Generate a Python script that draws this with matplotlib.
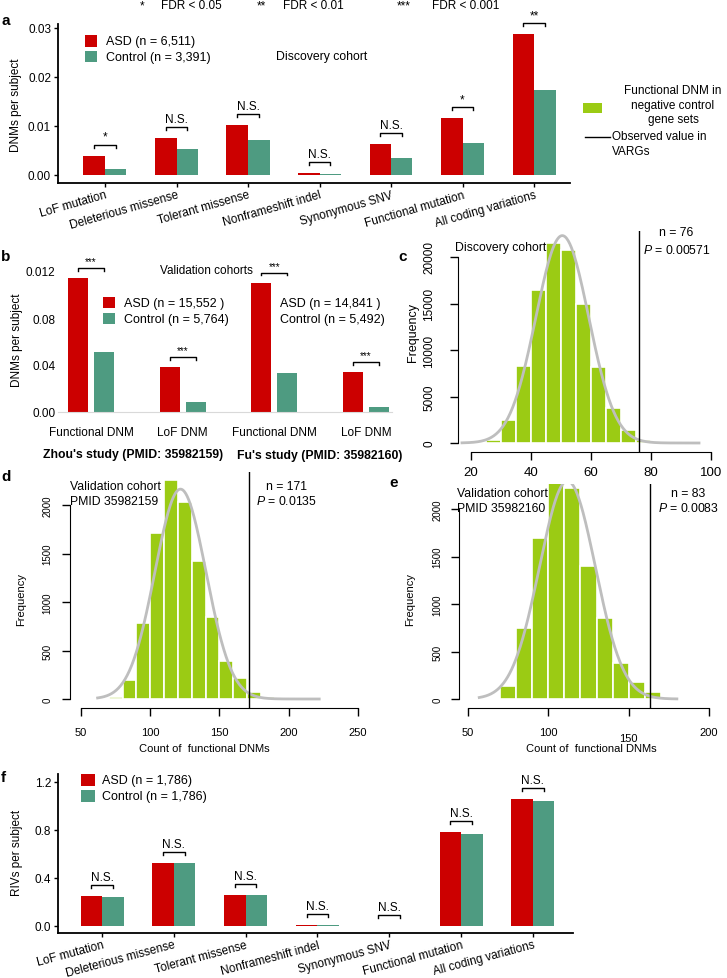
import numpy as np
import matplotlib
matplotlib.use('Agg')
import matplotlib.pyplot as plt
from matplotlib.patches import Rectangle
from matplotlib.lines import Line2D

plt.rcParams['font.family'] = ['Liberation Sans', 'DejaVu Sans']
plt.rcParams['mathtext.fontset'] = 'custom'
plt.rcParams['mathtext.it'] = 'Liberation Sans:italic'
plt.rcParams['mathtext.rm'] = 'Liberation Sans'

W, H = 727, 979
RED = '#CC0000'
TEAL = '#4E9B81'
GREEN = '#9BCB14'
GREY = '#BEBEBE'
FS = 8.5

# ---- data ----
mut_types = ['LoF mutation', 'Deleterious missense', 'Tolerant missense',
             'Nonframeshift indel', 'Synonymous SNV', 'Functional mutation',
             'All coding variations']
a_asd = [0.0039, 0.0076, 0.0102, 0.0004, 0.0062, 0.0116, 0.0287]
a_ctrl = [0.0011, 0.0052, 0.0070, 0.0002, 0.0035, 0.0064, 0.0173]
a_sig = ['*', 'N.S.', 'N.S.', 'N.S.', 'N.S.', '*', '**']

b_cats = ['Functional DNM', 'LoF DNM', 'Functional DNM', 'LoF DNM']
b_asd = [0.114, 0.038, 0.110, 0.034]
b_ctrl = [0.051, 0.0085, 0.033, 0.0043]
b_sig = ['***', '***', '***', '***']
b_studies = ["Zhou's study (PMID: 35982159)", "Fu's study (PMID: 35982160)"]

c_edges = [25, 30, 35, 40, 45, 50, 55, 60, 65, 70, 75, 80]
c_counts = [360, 2450, 8300, 16400, 21500, 20800, 15000, 8200, 3740, 1400, 360]
c_obs = 76

d_edges = [70, 80, 90, 100, 110, 120, 130, 140, 150, 160, 170, 180, 190, 200]
d_counts = [25, 195, 780, 1708, 2260, 2030, 1421, 849, 390, 217, 76, 25, 8]
d_obs = 171

e_edges = [70, 80, 90, 100, 110, 120, 130, 140, 150, 160, 170, 180]
e_counts = [134, 750, 1692, 2316, 2218, 1403, 850, 379, 176, 70, 12]
e_obs = 163

f_asd = [0.252, 0.525, 0.258, 0.008, 0.002, 0.780, 1.058]
f_ctrl = [0.239, 0.522, 0.258, 0.008, 0.002, 0.767, 1.040]
f_sig = ['N.S.'] * 7

fig = plt.figure(figsize=(W / 100, H / 100), dpi=100)


def add_ax(x0, y0, x1, y1):
    return fig.add_axes([x0 / W, 1 - y1 / H, (x1 - x0) / W, (y1 - y0) / H])


def xlim_px(x0, x1, ref_px, ref_val, ppu):
    return (ref_val + (x0 - ref_px) / ppu, ref_val + (x1 - ref_px) / ppu)


def ylim_px(y0, y1, ref_px, ref_val, ppu):
    # y0 top, y1 bottom (pixels from top)
    return (ref_val + (ref_px - y1) / ppu, ref_val + (ref_px - y0) / ppu)


def ftext(x, y, s, **kw):
    kw.setdefault('fontsize', FS)
    kw.setdefault('va', 'center')
    fig.text(x / W, 1 - y / H, s, **kw)


def frect(x0, y0, x1, y1, color):
    fig.add_artist(Rectangle((x0 / W, 1 - y1 / H), (x1 - x0) / W, (y1 - y0) / H,
                             transform=fig.transFigure, color=color, lw=0))


def brackets(ax, xs, asd, ctrl, sig, half, off, tick, pad, fs):
    for x, a, c, s in zip(xs, asd, ctrl, sig):
        y = max(a, c) + off
        ax.plot([x - half, x - half, x + half, x + half], [y - tick, y, y, y - tick],
                color='black', lw=1, clip_on=False)
        ax.text(x, y + pad, s, ha='center', va='bottom', fontsize=fs)


def grouped(ax, vals_a, vals_c, sig, ppu_x, ppu_y, labels, rot, lfs):
    x = np.arange(len(vals_a))
    bw = 21.5 / ppu_x
    ax.bar(x - bw / 2, vals_a, bw, color=RED, lw=0)
    ax.bar(x + bw / 2, vals_c, bw, color=TEAL, lw=0)
    brackets(ax, x, vals_a, vals_c, sig, bw / 2, 11 / ppu_y, 3 / ppu_y, 2 / ppu_y, 8.5)
    for s in ['top', 'right']:
        ax.spines[s].set_visible(False)
    for s in ['left', 'bottom']:
        ax.spines[s].set_linewidth(1.3)
    ax.set_xticks(x)
    ax.set_xticklabels(labels, rotation=rot, ha='right', rotation_mode='anchor', fontsize=lfs)
    ax.tick_params(length=3, width=1, pad=2, labelsize=FS)
    ax.tick_params(axis='x', pad=1)


# ---- top legend ----
ftext(142, 6, '*', ha='center')
ftext(161, 6, 'FDR < 0.05')
ftext(261, 6, '**', ha='center')
ftext(283, 6, 'FDR < 0.01')
ftext(404, 6, '***', ha='center')
ftext(432, 6, 'FDR < 0.001')

for lab, x, y in [('a', 1, 21), ('b', 1, 257), ('c', 398, 257), ('d', 1, 477),
                  ('e', 389, 483), ('f', 1, 778)]:
    ftext(x, y, lab, fontsize=11, fontweight='bold')

# ---- panel a ----
ax = add_ax(58, 25, 570, 184)
grouped(ax, a_asd, a_ctrl, a_sig, 71.5, 4890, mut_types, 16, 9)
ax.set_xlim(*xlim_px(58, 570, 105, 0, 71.5))
ax.set_ylim(*ylim_px(25, 184, 175.7, 0, 4890))
ax.set_yticks([0, 0.01, 0.02, 0.03])
ax.set_yticklabels(['0.00', '0.01', '0.02', '0.03'])
ftext(16, 105, 'DNMs per subject', rotation=90, ha='center')
frect(85, 36, 97, 48, RED)
frect(85, 52, 97, 63, TEAL)
ftext(106, 42, 'ASD (n = 6,511)', fontsize=9)
ftext(106, 57.5, 'Control (n = 3,391)', fontsize=9)
ftext(276, 57, 'Discovery cohort', fontsize=8.8)

# right legend
frect(583, 104, 602, 114, GREEN)
ftext(673, 91, 'Functional DNM in', ha='center')
ftext(673, 106, 'negative control', ha='center')
ftext(673, 120, 'gene sets', ha='center')
fig.add_artist(Line2D([585 / W, 610 / W], [1 - 137.7 / H] * 2, transform=fig.transFigure,
                      color='black', lw=1))
ftext(612, 137.5, 'Observed value in')
ftext(612, 152, 'VARGs')

# ---- panel b ----
ax = add_ax(58, 258, 392, 413)
xb = np.arange(len(b_cats))
off = 13 / 91.7
bw = 20 / 91.7
ax.bar(xb - off, b_asd, bw, color=RED, lw=0)
ax.bar(xb + off, b_ctrl, bw, color=TEAL, lw=0)
brackets(ax, xb, b_asd, b_ctrl, b_sig, off, 10 / 1175, 2.5 / 1175, 2 / 1175, 7)
ax.set_xlim(*xlim_px(58, 392, 91, 0, 91.7))
ax.set_ylim(*ylim_px(258, 413, 413, 0, 1175))
for s in ['top', 'right', 'left']:
    ax.spines[s].set_visible(False)
ax.spines['bottom'].set_color('#D9D9D9')
ax.set_yticks([0, 0.04, 0.08, 0.12])
ax.set_yticklabels(['0.00', '0.04', '0.08', '0.012'])
ax.set_xticks(xb)
ax.set_xticklabels(b_cats)
ax.tick_params(length=0, labelsize=FS)
ax.tick_params(axis='y', pad=2)
ax.tick_params(axis='x', pad=10, labelsize=8.5)
ftext(17, 340, 'DNMs per subject', rotation=90, ha='center')
ftext(133, 455, b_studies[0], ha='center', fontweight='bold', fontsize=8.8)
ftext(320, 456, b_studies[1], ha='center', fontweight='bold', fontsize=8.8)
ftext(206, 271, 'Validation cohorts', ha='center')
frect(103, 298, 115, 309, RED)
frect(103, 314, 115, 325, TEAL)
ftext(124, 303.5, 'ASD (n = 15,552 )', fontsize=9)
ftext(124, 320, 'Control (n = 5,764)', fontsize=9)
ftext(280, 303.5, 'ASD (n = 14,841 )', fontsize=9)
ftext(280, 320, 'Control (n = 5,492)', fontsize=9)


# ---- histograms ----
def hist_panel(box, edges, counts, obs, xmap, ymap, xt, yt, ybound, xbound, curve_rng,
               ylab_pad, xlab_pad, ytick_fs, xtick_fs):
    ax = add_ax(*box)
    edges = np.asarray(edges, float)
    counts = np.asarray(counts, float)
    widths = np.diff(edges)
    ax.bar(edges[:-1], counts, widths, align='edge', color=GREEN, edgecolor='white', lw=1.2)
    # fitted normal curve from the binned counts
    mids = edges[:-1] + widths / 2
    n = counts.sum()
    mu = (mids * counts).sum() / n
    sd = np.sqrt((counts * (mids - mu) ** 2).sum() / n)
    xs = np.linspace(curve_rng[0], curve_rng[1], 300)
    ys = n * widths[0] * np.exp(-0.5 * ((xs - mu) / sd) ** 2) / (sd * np.sqrt(2 * np.pi))
    ax.plot(xs, ys, color=GREY, lw=2)
    ax.axvline(obs, color='black', lw=1)
    ax.set_xlim(*xlim_px(box[0], box[2], *xmap))
    ax.set_ylim(*ylim_px(box[1], box[3], *ymap))
    for s in ['top', 'right']:
        ax.spines[s].set_visible(False)
    ax.spines['left'].set_bounds(*ybound)
    ax.spines['bottom'].set_bounds(*xbound)
    ax.set_xticks(xt)
    ax.set_yticks(yt)
    ax.tick_params(length=6, width=1)
    ax.tick_params(axis='y', pad=ylab_pad, labelsize=ytick_fs)
    ax.tick_params(axis='x', pad=xlab_pad, labelsize=xtick_fs)
    for lbl in ax.get_yticklabels():
        lbl.set_rotation(90)
        lbl.set_va('center')
    return ax


# c
ax = hist_panel((458, 232, 720, 453), c_edges, c_counts, c_obs, (471, 20, 3.0),
                (444, 0, 186 / 20000), [20, 40, 60, 80, 100], [0, 5000, 10000, 15000, 20000],
                (0, 20000), (20, 100), (17, 96), 10.5, 4, 8.5, 9.5)
ftext(455, 248, 'Discovery cohort', fontsize=8.8)
ftext(676, 233, 'n = 76', ha='center', fontsize=8.8)
ftext(677, 250, '$P$ = 0.00571', ha='center', fontsize=8.8)
ftext(413, 332, 'Frequency', rotation=90, ha='center', fontsize=9)

# d
ax = hist_panel((70, 473, 365, 709), d_edges, d_counts, d_obs, (81, 50, 277 / 200),
                (700, 0, 194 / 2000), [50, 100, 150, 200, 250], [0, 500, 1000, 1500, 2000],
                (0, 2000), (50, 250), (62, 222), 6.5, 8, 7, 8)
ftext(70, 487, 'Validation cohort', fontsize=8.8)
ftext(70, 502, 'PMID 35982159', fontsize=8.8)
ftext(287, 487, 'n = 171', ha='center', fontsize=8.8)
ftext(287, 502, '$P$ = 0.0135', ha='center', fontsize=8.8)
ftext(21, 600, 'Frequency', rotation=90, ha='center', fontsize=8)
ftext(204, 749, 'Count of  functional DNMs', ha='center', fontsize=8)

# e
ax = hist_panel((459, 485, 715, 709), e_edges, e_counts, e_obs, (468, 50, 241 / 150),
                (700, 0, 190 / 2000), [50, 100, 150, 200], [0, 500, 1000, 1500, 2000],
                (0, 2000), (50, 200), (57, 180), 6, 8, 7, 8)
ax.get_xticklabels()[2].set_y(-0.025)
ftext(457, 494, 'Validation cohort', fontsize=8.8)
ftext(457, 509, 'PMID 35982160', fontsize=8.8)
ftext(688, 494, 'n = 83', ha='center', fontsize=8.8)
ftext(689, 509, '$P$ = 0.0083', ha='center', fontsize=8.8)
ftext(410, 600, 'Frequency', rotation=90, ha='center', fontsize=8)
ftext(591, 749, 'Count of  functional DNMs', ha='center', fontsize=8)

# ---- panel f ----
ax = add_ax(58, 775, 573, 934)
grouped(ax, f_asd, f_ctrl, f_sig, 71.8, 120, mut_types, 15, 8.8)
ax.set_xlim(*xlim_px(58, 573, 102, 0, 71.8))
ax.set_ylim(*ylim_px(775, 934, 927, 0, 120))
ax.set_yticks([0, 0.4, 0.8, 1.2])
ax.set_yticklabels(['0.0', '0.4', '0.8', '1.2'])
ftext(17, 853, 'RIVs per subject', rotation=90, ha='center')
frect(81, 775, 95, 787, RED)
frect(81, 791, 95, 803, TEAL)
ftext(102, 781, 'ASD (n = 1,786)', fontsize=9)
ftext(102, 797, 'Control (n = 1,786)', fontsize=9)

fig.savefig('out.png', dpi=100)
